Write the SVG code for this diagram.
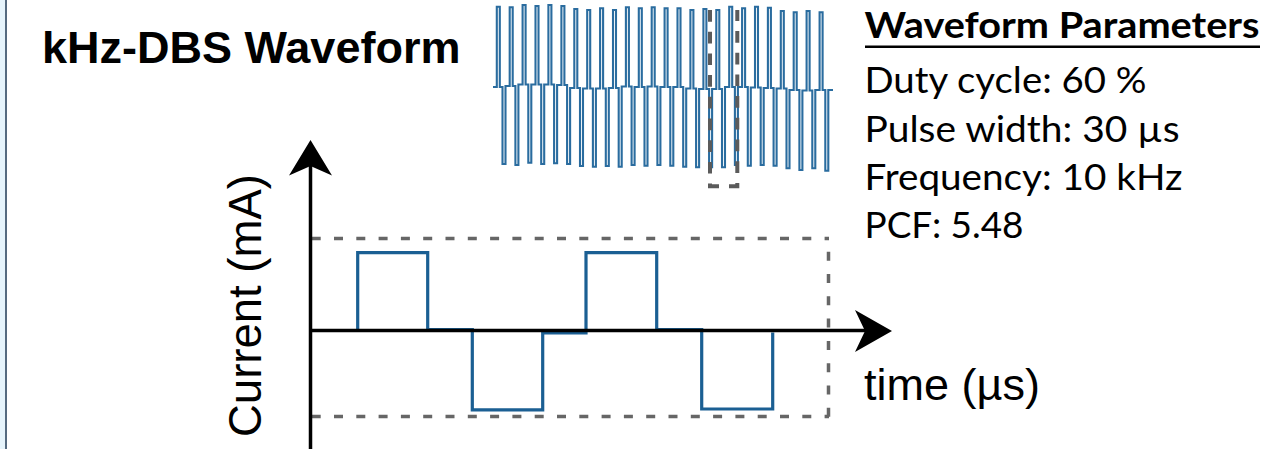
<svg xmlns="http://www.w3.org/2000/svg" width="1268" height="449" viewBox="0 0 1268 449">
  <style>
    .title { font-family: "Liberation Sans", Arial, sans-serif; font-weight: bold; font-size: 45px; fill: #000; }
    .axislabel { font-family: "Liberation Sans", Arial, sans-serif; font-size: 45.5px; fill: #000; }
    .param { font-family: Lato, "Open Sans", sans-serif; font-size: 36px; fill: #000; }
    .paramhead { font-family: Lato, "Open Sans", sans-serif; font-weight: bold; font-size: 36px; fill: #000; }
    .grid { fill: none; stroke: #666; stroke-width: 3.5; stroke-dasharray: 9 13.3; }
    .wave { fill: none; stroke: #1b5f93; stroke-width: 3.2; stroke-linejoin: miter; }
    .train { fill: none; stroke: #2a6c9f; stroke-width: 2.1; stroke-linejoin: miter; }
    .axis { fill: none; stroke: #000; stroke-width: 3.5; }
  </style>

  <!-- page edge band -->
  <rect x="0" y="0" width="5" height="449" fill="#e6f4fc"/>
  <rect x="5" y="0" width="2" height="449" fill="#556a80"/>

  <g id="title">
    <text class="title" x="42" y="63">kHz-DBS Waveform</text>
  </g>

  <!-- pulse train overview -->
  <g id="pulse-train">
    <path class="train" d="M493,87
      H496.8 V6.7 H499.8 V87 H502.5 V164 H505.5 V86
      H509.7 V7.3 H512.7 V86 H515.4 V165 H518.4 V84.5
      H522.6 V5 H525.6 V84.5 H528.3 V162.7 H531.3 V84.5
      H535.5 V6 H538.5 V84.5 H541.2 V164 H544.2 V84.5
      H548.4 V5 H551.4 V84.5 H554.1 V163.3 H557.1 V85
      H561.4 V6 H564.4 V85 H567.1 V164 H570.1 V88
      H574.3 V9 H577.3 V88 H580 V166 H583 V88.5
      H587.2 V10 H590.2 V88.5 H592.9 V166.7 H595.9 V88.5
      H600.1 V8.3 H603.1 V88.5 H605.8 V166 H608.8 V88
      H613 V10 H616 V88 H618.7 V166.7 H621.7 V86.5
      H625.9 V7.3 H628.9 V86.5 H631.6 V165 H634.6 V87
      H638.8 V8.3 H641.8 V87 H644.5 V165.7 H647.5 V86.5
      H651.7 V7.3 H654.7 V86.5 H657.4 V165 H660.4 V87
      H664.6 V8.3 H667.6 V87 H670.3 V165.7 H673.3 V87
      H677.5 V8.3 H680.5 V87 H683.2 V166.7 H686.2 V88.5
      H690.4 V10 H693.4 V88.5 H696.1 V167.3 H699.1 V89
      H703.4 V9 H706.4 V89 H709.1 V167.3 H712.1 V89
      H716.3 V10 H719.3 V89 H722 V167.3 H725 V87
      H729.2 V6.7 H732.2 V87 H734.9 V165 H737.9 V87
      H742.1 V8.3 H745.1 V87 H747.8 V165.7 H750.8 V87.5
      H755 V6.7 H758 V87.5 H760.7 V165 H763.7 V88
      H767.9 V7.7 H770.9 V88 H773.6 V165.7 H776.6 V88.5
      H780.8 V11 H783.8 V88.5 H786.5 V168.3 H789.5 V90
      H793.7 V12.3 H796.7 V90 H799.4 V170 H802.4 V90.5
      H806.6 V11 H809.6 V90.5 H812.3 V168.3 H815.3 V90
      H819.6 V12.3 H822.6 V90 H825.3 V170.7 H828.3 V90
      H833"/>
    <!-- zoom window around one period -->
    <path d="M710,10 V186.3 H737.3 V10" fill="none" stroke="#5b5b5b" stroke-width="4" stroke-dasharray="11.7 10"/>
  </g>

  <g id="parameters">
    <text class="paramhead" x="864.5" y="38" textLength="395" lengthAdjust="spacingAndGlyphs">Waveform Parameters</text>
    <rect x="865" y="45.5" width="395" height="2.5" fill="#000"/>
    <text class="param" x="864.5" y="93.3" textLength="282" lengthAdjust="spacingAndGlyphs">Duty cycle: 60 %</text>
    <text class="param" x="864.5" y="141.7" textLength="315" lengthAdjust="spacingAndGlyphs">Pulse width: 30 µs</text>
    <text class="param" x="864.5" y="190" textLength="318" lengthAdjust="spacingAndGlyphs">Frequency: 10 kHz</text>
    <text class="param" x="864.5" y="238.3" textLength="159" lengthAdjust="spacingAndGlyphs">PCF: 5.48</text>
  </g>

  <!-- single-period detail plot -->
  <g id="amplitude-bounds">
    <line class="grid" x1="311.7" y1="238.5" x2="829" y2="238.5"/>
    <line class="grid" x1="311.7" y1="416.5" x2="829" y2="416.5"/>
    <line class="grid" x1="828.5" y1="238.5" x2="828.5" y2="416.8" stroke-dashoffset="9.1"/>
  </g>

  <g id="waveform">
    <path class="wave" d="M310,330.5 H357.7 V252.7 H427.7 V329.5 H472.3 V409.8 H542.7 V333 H586 V252.7 H656.7 V329.5 H701.7 V409 H772.7 V332.5"/>
  </g>

  <g id="axes">
    <line class="axis" x1="310.5" y1="160" x2="310.5" y2="449"/>
    <polygon points="310.5,140 332,175.5 310.5,166 289,175.5" fill="#000"/>
    <line class="axis" x1="309" y1="330.5" x2="870" y2="330.5"/>
    <polygon points="892,331 855,352 865,331 855,310" fill="#000"/>
  </g>

  <g id="axis-labels">
    <text class="axislabel" transform="translate(261 437) rotate(-90)">Current (mA)</text>
    <text class="axislabel" style="font-size:45px" x="864" y="400">time (µs)</text>
  </g>
</svg>
